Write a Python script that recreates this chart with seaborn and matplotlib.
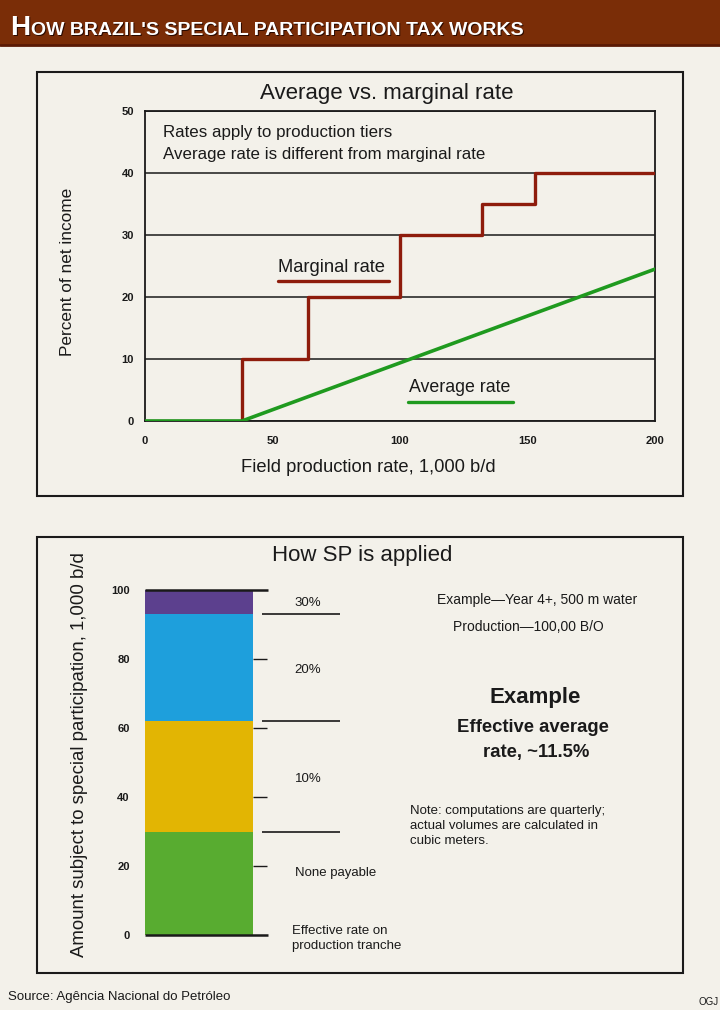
import numpy as np
import matplotlib
matplotlib.use("Agg")
import matplotlib.pyplot as plt
import seaborn as sns
from matplotlib.patches import Rectangle
from matplotlib.lines import Line2D

# ---------------- data ----------------
tier_start = [0, 38, 64, 100, 132, 153, 200]     # field production rate, 1,000 b/d
marginal_rate = [0, 10, 20, 30, 35, 40, 40]       # percent of net income
avg_x = [0, 38, 200]
avg_rate = [0, 0, 24.5]
x_ticks_top = [0, 50, 100, 150, 200]
y_ticks_top = [0, 10, 20, 30, 40, 50]

tranche_labels = ["None payable", "10%", "20%", "30%"]
tranche_amount = [30, 32, 31, 7]                  # 1,000 b/d
tranche_colors = ["#58ac30", "#e2b503", "#1e9fdc", "#5c408e"]
y_ticks_bottom = [0, 20, 40, 60, 80, 100]

# ---------------- style ----------------
sns.set_theme(style="white")
FONT = ["Liberation Sans Narrow", "Liberation Sans", "DejaVu Sans"]
plt.rcParams["font.family"] = FONT
BG = "#f3f1ea"
RED = "#8e1c0c"
GREEN = "#1f9a1f"
INK = "#1a1a1a"

W, H = 720, 1010
fig = plt.figure(figsize=(W / 100, H / 100), dpi=100)
fig.patch.set_facecolor(BG)

def fx(x):
    return x / W

def fy(y):
    return 1 - y / H

# title bar
fig.patches.append(Rectangle((0, fy(45)), 1, 45 / H, transform=fig.transFigure,
                             facecolor="#7a2d07", edgecolor="none", zorder=0))
fig.add_artist(Line2D([0, 1], [fy(45), fy(45)], color="#5a1a05", lw=2))
for dx, dy, col in [(1.5, 1.5, "#2a0a00"), (0, 0, "white")]:
    fig.text(fx(10 + dx), fy(35 + dy), "H", fontsize=20, fontweight="bold",
             color=col, va="baseline", ha="left")
    fig.text(fx(31 + dx), fy(35 + dy), "OW BRAZIL'S SPECIAL PARTICIPATION TAX WORKS",
             fontsize=14, fontweight="bold", color=col, va="baseline", ha="left")

# panel frames
for top, bot in [(72, 496), (537, 973)]:
    fig.patches.append(Rectangle((fx(37), fy(bot)), (683 - 37) / W, (bot - top) / H,
                                 transform=fig.transFigure, facecolor="none",
                                 edgecolor=INK, lw=1.5, zorder=1))

# ---------------- top chart ----------------
ax1 = fig.add_axes([fx(145), fy(421), 510 / W, 310 / H])
ax1.set_facecolor("none")
sns.lineplot(x=tier_start, y=marginal_rate, drawstyle="steps-post", color=RED,
             lw=2.4, ax=ax1, sort=False, zorder=3)
sns.lineplot(x=avg_x, y=avg_rate, color=GREEN, lw=2.6, ax=ax1, sort=False, zorder=4)
ax1.set_xlim(0, 200)
ax1.set_ylim(0, 50)
ax1.set_xticks(x_ticks_top)
ax1.set_yticks(y_ticks_top)
ax1.yaxis.grid(True, color=INK, lw=1.1)
ax1.set_axisbelow(True)
for s in ax1.spines.values():
    s.set_visible(True)
    s.set_color(INK)
    s.set_linewidth(1.3)
ax1.tick_params(length=0, labelsize=8, colors=INK)
ax1.tick_params(axis="x", pad=11)
ax1.tick_params(axis="y", pad=8)
for lab in ax1.get_xticklabels() + ax1.get_yticklabels():
    lab.set_fontweight("bold")
ax1.set_xlabel("")
ax1.set_ylabel("")

fig.text(fx(387), fy(93), "Average vs. marginal rate", fontsize=16, ha="center",
         va="center", color=INK)
fig.text(fx(68), fy(272), "Percent of net income", fontsize=12.4, rotation=90,
         ha="center", va="center", color=INK)
fig.text(fx(368), fy(467), "Field production rate, 1,000 b/d", fontsize=13.2,
         ha="center", va="center", color=INK)
fig.text(fx(163), fy(132), "Rates apply to production tiers", fontsize=12.2,
         ha="left", va="center", color=INK)
fig.text(fx(163), fy(155), "Average rate is different from marginal rate", fontsize=12.2,
         ha="left", va="center", color=INK)
fig.text(fx(332), fy(268), "Marginal rate", fontsize=13.2, ha="center", va="center",
         color=INK)
fig.add_artist(Line2D([fx(278), fx(389)], [fy(281), fy(281)], color=RED, lw=2.4))
fig.text(fx(460), fy(388), "Average rate", fontsize=12.8, ha="center", va="center",
         color=INK)
fig.add_artist(Line2D([fx(408), fx(513)], [fy(402), fy(402)], color=GREEN, lw=2.4))

# ---------------- bottom chart ----------------
BAR_W = 0.8
px_per_unit = 108 / BAR_W
ax2 = fig.add_axes([fx(145), fy(935), 200 / W, 345 / H])
ax2.set_facecolor("none")
tops = np.cumsum(tranche_amount)
bottoms = tops - np.array(tranche_amount)
for top, col in reversed(list(zip(tops, tranche_colors))):
    sns.barplot(x=[0], y=[top], color=col, saturation=1, width=BAR_W, ax=ax2,
                edgecolor="none", linewidth=0)
x0 = -BAR_W / 2
ax2.set_xlim(x0, x0 + 200 / px_per_unit)
ax2.set_ylim(0, 100)
for s in ax2.spines.values():
    s.set_visible(False)
ax2.set_xticks([])
ax2.set_yticks(y_ticks_bottom)
ax2.set_yticklabels([str(v) for v in y_ticks_bottom])
ax2.tick_params(axis="y", length=0, pad=11, labelsize=8, colors=INK)
for lab in ax2.get_yticklabels():
    lab.set_fontweight("bold")
ax2.set_xlabel("")
ax2.set_ylabel("")

bar_r = BAR_W / 2
u = 1 / px_per_unit
inner = [v for v in y_ticks_bottom if v not in (0, 100)]
ax2.hlines(inner, bar_r, bar_r + 14 * u, color=INK, lw=1.0, clip_on=False)
ax2.hlines([y_ticks_bottom[0], y_ticks_bottom[-1]], x0, bar_r + 15 * u, color=INK,
           lw=1.8, clip_on=False, zorder=5)
ax2.hlines(tops[:-1], bar_r + 9 * u, bar_r + 87 * u, color=INK, lw=1.2, clip_on=False)

for lab, b, t in zip(tranche_labels, bottoms, tops):
    if lab.endswith("%"):
        ax2.text(bar_r + 55 * u, b + 0.48 * (t - b), lab, fontsize=9.5, ha="center",
                 va="center", color=INK)
    else:
        ax2.text(bar_r + 42 * u, b + 0.6 * (t - b), lab, fontsize=9.5, ha="left",
                 va="center", color=INK)
ax2.text(bar_r + 39 * u, -1, "Effective rate on\nproduction tranche", fontsize=9.5,
         ha="left", va="center", color=INK, linespacing=1.25)

fig.text(fx(362), fy(555), "How SP is applied", fontsize=16, ha="center",
         va="center", color=INK)
fig.text(fx(80), fy(755), "Amount subject to special participation, 1,000 b/d",
         fontsize=13.4, rotation=90, ha="center", va="center", color=INK)

fig.text(fx(537), fy(600), "Example\u2014Year 4+, 500 m water", fontsize=10,
         ha="center", va="center", color=INK)
fig.text(fx(528), fy(627), "Production\u2014100,00 B/O", fontsize=10,
         ha="center", va="center", color=INK)
fig.text(fx(535), fy(698), "Example", fontsize=16, fontweight="bold",
         ha="center", va="center", color=INK)
fig.text(fx(533), fy(727), "Effective average", fontsize=13.3, fontweight="bold",
         ha="center", va="center", color=INK)
fig.text(fx(536), fy(753), "rate, ~11.5%", fontsize=13.3, fontweight="bold",
         ha="center", va="center", color=INK)
fig.text(fx(410), fy(826), "Note: computations are quarterly;\nactual volumes are calculated in\ncubic meters.",
         fontsize=9.5, ha="left", va="center", color=INK, linespacing=1.3)

fig.text(fx(8), fy(997), "Source: Ag\u00eancia Nacional do Petr\u00f3leo", fontsize=9.5,
         ha="left", va="center", color=INK)
fig.text(fx(719), fy(1002), "OGJ", fontsize=7, ha="right", va="center", color=INK)

fig.savefig("out.png", dpi=100, facecolor=BG)
